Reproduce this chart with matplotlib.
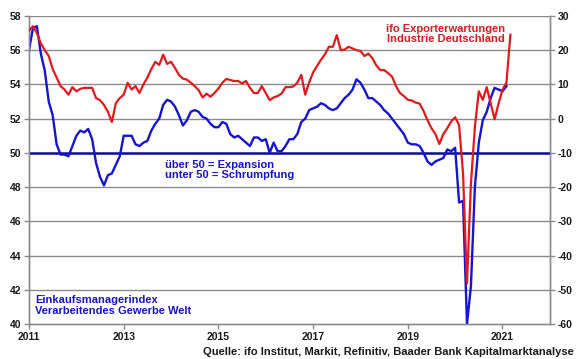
import matplotlib

matplotlib.use("Agg")

import matplotlib.pyplot as plt
import numpy as np

# Monthly values, Jan 2011 onwards
pmi_world = [
    56.0, 57.3, 57.4, 55.8, 54.8, 53.0, 52.2, 50.5, 49.9, 49.9, 49.8, 50.4,
    51.0, 51.3, 51.2, 51.4, 50.8, 49.4, 48.6, 48.1, 48.7, 48.8, 49.3, 49.8,
    51.0, 51.0, 51.0, 50.5, 50.4, 50.6, 50.7, 51.3, 51.7, 52.0, 52.8, 53.1,
    53.0, 52.7, 52.2, 51.6, 51.9, 52.4, 52.5, 52.4, 52.1, 52.0, 51.7, 51.5,
    51.5, 51.8, 51.7, 51.1, 50.9, 51.0, 50.8, 50.6, 50.4, 50.9, 50.9, 50.7,
    50.8, 50.0, 50.6, 50.1, 50.1, 50.4, 50.8, 50.8, 51.1, 51.8, 52.0, 52.5,
    52.6, 52.7, 52.9, 52.8, 52.6, 52.5, 52.6, 52.9, 53.2, 53.4, 53.7, 54.3,
    54.1, 53.7, 53.2, 53.2, 53.0, 52.8, 52.5, 52.3, 52.0, 51.7, 51.4, 51.1,
    50.6, 50.5, 50.5, 50.4, 50.0, 49.5, 49.3, 49.5, 49.6, 49.7, 50.2, 50.1,
    50.3, 47.1, 47.2, 40.0, 42.2, 48.0, 50.6, 51.9, 52.4, 53.2, 53.8, 53.7,
    53.6, 53.9,
]

ifo_export = [
    25.7, 27.0, 25.0, 22.0, 20.0, 18.3, 14.5, 12.0, 9.5, 8.5, 7.0, 9.2,
    8.0, 8.7, 9.0, 9.0, 9.0, 6.0, 5.4, 4.0, 2.0, -1.0, 4.5, 6.0,
    7.0, 10.5, 8.5, 9.5, 7.5, 10.0, 12.0, 14.5, 16.6, 15.7, 18.7, 16.0,
    16.6, 14.8, 12.8, 11.7, 11.4, 10.5, 9.5, 8.3, 6.2, 7.3, 6.4, 7.5,
    8.8, 10.5, 11.6, 11.3, 11.0, 11.0, 10.3, 11.0, 9.0, 7.5, 7.5, 9.5,
    7.5, 5.4, 6.2, 6.6, 7.3, 9.2, 9.2, 9.4, 10.5, 12.8, 7.0, 10.6,
    13.5, 15.4, 17.2, 18.8, 21.0, 21.0, 24.4, 20.0, 20.2, 21.0, 20.5, 20.0,
    19.8, 18.3, 19.0, 17.7, 15.6, 14.2, 14.2, 13.3, 12.3, 9.5, 7.5, 6.6,
    5.5, 5.3, 4.7, 4.4, 2.2, -0.5, -2.8, -4.5, -7.4, -4.5, -2.8, -0.8,
    0.4, -1.9, -16.0, -48.2, -19.0, -2.4, 8.0, 5.5, 9.2, 4.5, -0.2, 4.4,
    8.5, 10.5, 24.5,
]

year_ticks = [2011, 2013, 2015, 2017, 2019, 2021]
left_ticks = list(range(40, 59, 2))
right_ticks = list(range(-60, 31, 10))

BLUE = "#1414d2"
DARKBLUE = "#0a0a9a"
RED = "#e3191c"
GRID = "#8c8c8c"
TXT = "#1a1a1a"

plt.rcParams.update({
    "font.family": ["Liberation Sans", "DejaVu Sans"],
    "font.weight": "bold",
    "font.size": 7.5,
})

t_pmi = 2011 + np.arange(len(pmi_world)) / 12.0
t_ifo = 2011 + np.arange(len(ifo_export)) / 12.0

fig = plt.figure(figsize=(5.8, 3.59), dpi=100)
ax = fig.add_axes([0.05, 0.0975, 0.898, 0.858])
ax2 = ax.twinx()

ax.set_xlim(2011, 2022)
ax.set_ylim(40, 58)
ax2.set_ylim(-60, 30)

for y in left_ticks[1:]:
    if y != 50:
        ax.axhline(y, color=GRID, lw=1.0, zorder=1)
ax.axhline(50, color=DARKBLUE, lw=1.8, zorder=3)

ax.plot(t_pmi, pmi_world, color=BLUE, lw=1.7, zorder=4)
ax2.plot(t_ifo, ifo_export, color=RED, lw=1.6, zorder=4)

ax.set_xticks(year_ticks)
ax.set_xticklabels([str(y) for y in year_ticks], fontweight="bold", color=TXT)
ax.set_yticks(left_ticks)
ax.set_yticklabels([str(y) for y in left_ticks], fontweight="bold", color=TXT)
ax2.set_yticks(right_ticks)
ax2.set_yticklabels([str(y) for y in right_ticks], fontweight="bold", color=TXT)

for a in (ax, ax2):
    for s in a.spines.values():
        s.set_color(GRID)
        s.set_linewidth(1.0)
    a.spines["top"].set_visible(False)
    a.tick_params(length=3.5, width=1.0, color=GRID, pad=2)

ax.text(0.262, 0.534, "über 50 = Expansion\nunter 50 = Schrumpfung",
        transform=ax.transAxes, color=BLUE, fontsize=8, fontweight="bold",
        va="top", ha="left", linespacing=1.05)
ax.text(0.012, 0.093, "Einkaufsmanagerindex\nVerarbeitendes Gewerbe Welt",
        transform=ax.transAxes, color=BLUE, fontsize=8, fontweight="bold",
        va="top", ha="left", linespacing=1.05)
ax.text(0.8, 0.975, "ifo Exporterwartungen\nIndustrie Deutschland",
        transform=ax.transAxes, color=RED, fontsize=8, fontweight="bold",
        va="top", ha="center", linespacing=1.05)
fig.text(0.99, 0.005, "Quelle: ifo Institut, Markit, Refinitiv, Baader Bank Kapitalmarktanalyse",
         color=TXT, fontsize=8, fontweight="bold", ha="right", va="bottom")

fig.savefig("out.png", dpi=100, facecolor="white")
